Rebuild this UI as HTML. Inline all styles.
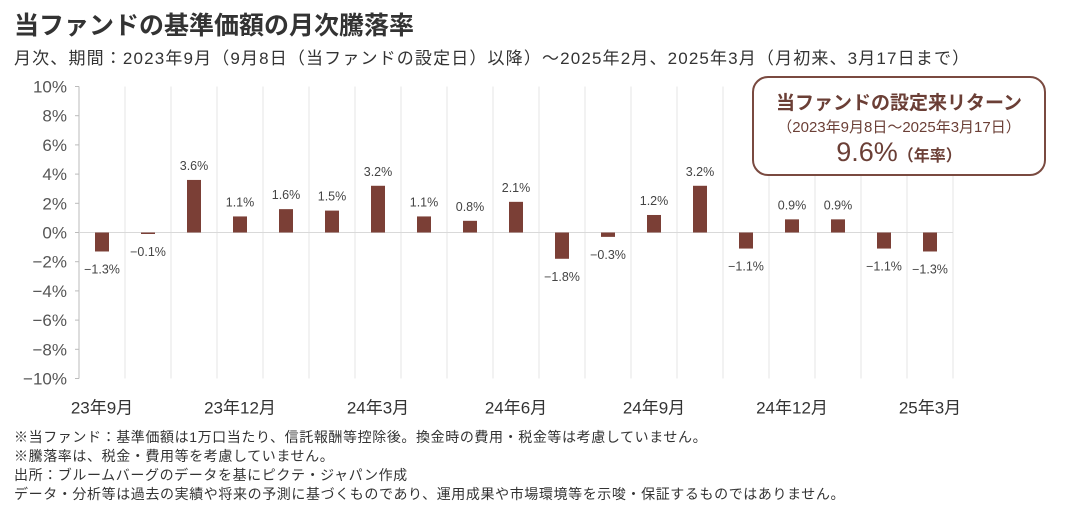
<!DOCTYPE html>
<html><head><meta charset="utf-8"><style>
body{margin:0;width:1088px;height:512px;background:#fff;font-family:"Liberation Sans","Noto Sans CJK JP",sans-serif;color:#333;position:relative;overflow:hidden}
.t{position:absolute;white-space:nowrap}
</style></head><body>
<div class="t" style="left:14px;top:6px;font-size:25px;font-weight:bold;color:#333">当ファンドの基準価額の月次騰落率</div>
<div class="t" style="left:14px;top:44px;font-size:17px;letter-spacing:1.15px;color:#333">月次、期間：2023年9月（9月8日（当ファンドの設定日）以降）～2025年2月、2025年3月（月初来、3月17日まで）</div>
<svg id="c" width="1088" height="512" style="position:absolute;left:0;top:0"></svg>
<div style="position:absolute;left:752px;top:76px;width:290px;height:96px;border:2px solid #7a4a40;border-radius:16px;background:#fff;text-align:center;color:#6b3f36">
<div style="font-size:19px;font-weight:bold;margin-top:10px">当ファンドの設定来リターン</div>
<div style="font-size:15px;margin-top:1px">（2023年9月8日～2025年3月17日）</div>
<div style="font-size:27px;margin-top:0px">9.6%<span style="font-size:16px;font-weight:bold">（年率）</span></div>
</div>
<div class="t" style="left:14px;top:428px;font-size:14px;letter-spacing:0.6px;line-height:19px;color:#333">※当ファンド：基準価額は1万口当たり、信託報酬等控除後。換金時の費用・税金等は考慮していません。<br>※騰落率は、税金・費用等を考慮していません。<br>出所：ブルームバーグのデータを基にピクテ・ジャパン作成<br>データ・分析等は過去の実績や将来の予測に基づくものであり、運用成果や市場環境等を示唆・保証するものではありません。</div>
<script>
const categories=["23年9月","23年10月","23年11月","23年12月","24年1月","24年2月","24年3月","24年4月","24年5月","24年6月","24年7月","24年8月","24年9月","24年10月","24年11月","24年12月","25年1月","25年2月","25年3月"];
const values=[-1.3,-0.1,3.6,1.1,1.6,1.5,3.2,1.1,0.8,2.1,-1.8,-0.3,1.2,3.2,-1.1,0.9,0.9,-1.1,-1.3];
const yTicks=[10,8,6,4,2,0,-2,-4,-6,-8,-10];
const xLabelIdx=[0,3,6,9,12,15,18];
const svg=document.getElementById('c');const NS='http://www.w3.org/2000/svg';
const x0=79,band=46,y0=232.5,ppu=14.6;
const X=i=>x0+band*(i+0.5);const Y=v=>y0-v*ppu;
function mk(t,a){const e=document.createElementNS(NS,t);for(const k in a)e.setAttribute(k,a[k]);svg.appendChild(e);return e;}
for(let i=1;i<=categories.length;i++){const g=mk('line',{x1:x0+band*i,x2:x0+band*i,y1:Y(10),y2:Y(-10),stroke:'#e6e6e6','stroke-width':1});

}
const ax=mk('line',{x1:x0,x2:x0,y1:Y(10),y2:Y(-10),stroke:'#bbb','stroke-width':1});


const zl=mk('line',{x1:x0,x2:x0+band*categories.length,y1:Y(0),y2:Y(0),stroke:'#d9d9d9','stroke-width':1});


yTicks.forEach(v=>{const tk=mk('line',{x1:x0-4,x2:x0,y1:Y(v),y2:Y(v),stroke:'#bbb'});


const t=mk('text',{x:x0-12,y:Y(v)+6,'text-anchor':'end','font-size':17,fill:'#555'});t.textContent=(v<0?'−':'')+Math.abs(v)+'%';

});
values.forEach((v,i)=>{const top=Math.min(Y(v),Y(0)),h=Math.max(Math.abs(Y(v)-Y(0)),1.5);
const b=mk('rect',{x:X(i)-7,y:top,width:14,height:h,fill:'#7b3f36'});


const ly=v>=0?Y(v)-10:Y(v)+22;
const t=mk('text',{x:X(i),y:ly,'text-anchor':'middle','font-size':12.5,fill:'#444'});t.textContent=(v<0?'−':'')+Math.abs(v).toFixed(1)+'%';

});
xLabelIdx.forEach(i=>{const t=mk('text',{x:X(i),y:Y(-10)+35,'text-anchor':'middle','font-size':17,fill:'#333'});t.textContent=categories[i];

});
</script>
</body></html>
